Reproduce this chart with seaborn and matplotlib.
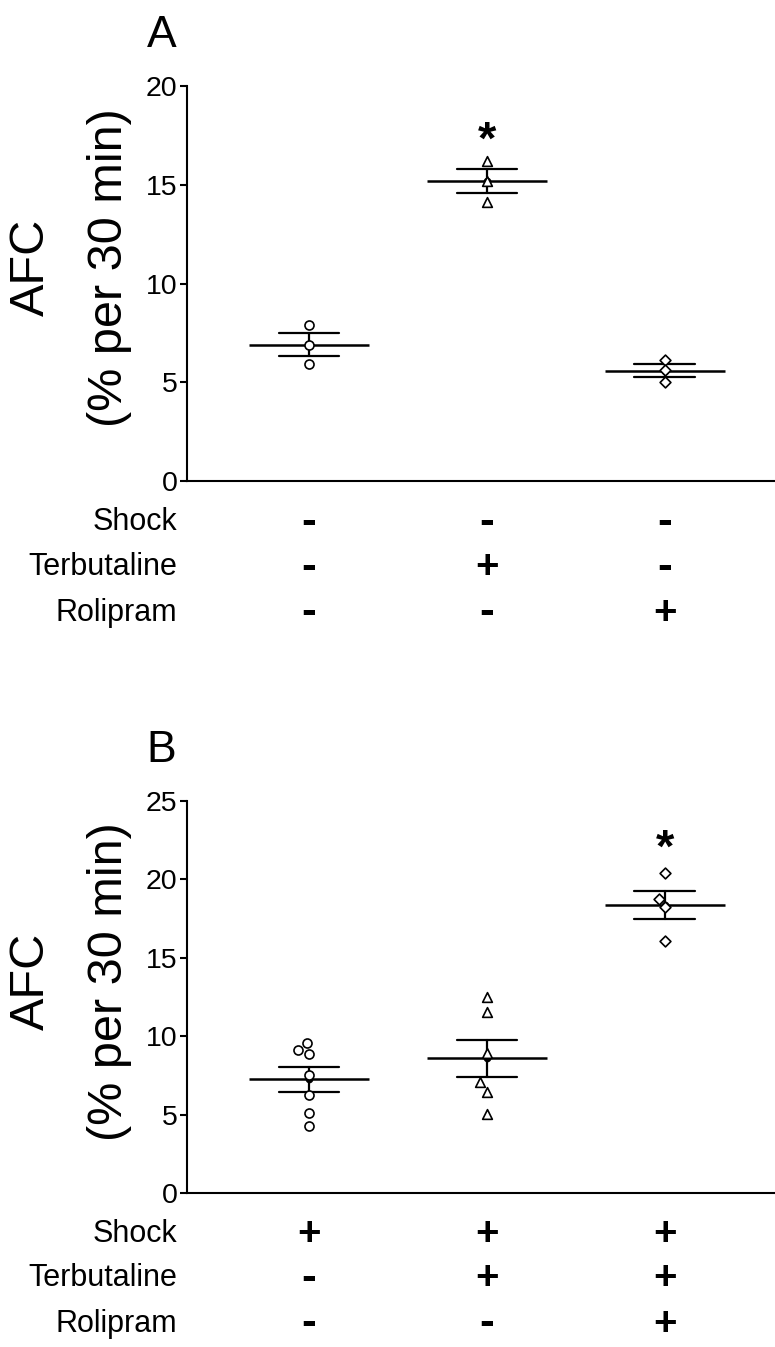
import numpy as np
import pandas as pd
import matplotlib
matplotlib.use('Agg')
import matplotlib.pyplot as plt
import matplotlib.transforms as mtransforms
import seaborn as sns

# Panel A: no shock
a_groups = ['Control', 'Terbutaline', 'Rolipram']
a_control = [7.9, 6.9, 5.9]
a_terbutaline = [16.2, 15.2, 14.15]
a_rolipram = [6.15, 5.6, 5.0]
a_shock = ['-', '-', '-']
a_terb = ['-', '+', '-']
a_roli = ['-', '-', '+']
a_signif = [False, True, False]

# Panel B: shock
b_groups = ['Shock', 'Shock + Terbutaline', 'Shock + Terbutaline + Rolipram']
b_shock_only = [9.55, 9.1, 8.88, 7.55, 6.25, 5.1, 4.25]
b_shock_terb = [12.48, 11.53, 8.95, 7.06, 6.45, 5.05]
b_shock_terb_roli = [20.38, 18.75, 18.26, 16.08]
b_shock = ['+', '+', '+']
b_terb = ['-', '+', '+']
b_roli = ['-', '-', '+']
b_signif = [False, False, True]

row_names = ['Shock', 'Terbutaline', 'Rolipram']

sns.set_style('ticks')
plt.rcParams['font.family'] = ['Liberation Sans', 'DejaVu Sans']
plt.rcParams['text.color'] = 'black'
plt.rcParams['axes.labelcolor'] = 'black'
plt.rcParams['ytick.color'] = 'black'

fig = plt.figure(figsize=(7.75, 13.47), dpi=100)
W, H = 775.0, 1347.0
ax_a = fig.add_axes([187 / W, 1 - 481 / H, 1 - 187 / W, (481 - 86) / H])
ax_b = fig.add_axes([187 / W, 1 - 1193 / H, 1 - 187 / W, (1193 - 801) / H])

markers = ['o', '^', 'D']
sizes = [6.5, 7, 5.5]


def draw_panel(ax, groups, values, signs, signif, letter, ymax, star_y):
    df = pd.DataFrame({
        'group': np.repeat(groups, [len(v) for v in values]),
        'afc': np.concatenate(values),
    })

    # individual animals, open symbols
    for g, m, s in zip(groups, markers, sizes):
        sns.swarmplot(data=df[df['group'] == g], x='group', y='afc', order=groups,
                      marker=m, size=s, color='white', edgecolor='black',
                      linewidth=1.2, ax=ax)

    # mean +/- SEM
    sns.pointplot(data=df, x='group', y='afc', order=groups, errorbar='se',
                  capsize=0.34, color='black', marker='_', markersize=86,
                  markeredgewidth=1.8, linestyle='none', linewidth=1.6,
                  err_kws={'linewidth': 1.6}, ax=ax)
    # small dot at the mean
    sns.pointplot(data=df, x='group', y='afc', order=groups, errorbar=None,
                  color='black', marker='o', markersize=3.5, linestyle='none',
                  ax=ax)

    ax.set_xlim(-0.685, 2.62)
    ax.set_ylim(0, ymax)
    ax.set_yticks(np.arange(0, ymax + 1, 5))
    ax.set_xticks([])
    ax.set_xlabel('')
    ax.set_ylabel('')
    sns.despine(ax=ax)
    for sp in ['left', 'bottom']:
        ax.spines[sp].set_linewidth(1.5)
        ax.spines[sp].set_color('black')
    ax.tick_params(axis='y', length=5, width=1.5, labelsize=20.5, pad=2,
                   colors='black')

    # significance star
    for i, sig in enumerate(signif):
        if sig:
            ax.text(i, star_y, '*', ha='center', va='center', fontsize=34,
                    fontweight='bold')

    # y label
    ax.text(-0.264, 0.54, 'AFC', transform=ax.transAxes, rotation=90,
            ha='center', va='center', fontsize=35)
    ax.text(-0.131, 0.54, '(% per 30 min)', transform=ax.transAxes, rotation=90,
            ha='center', va='center', fontsize=35)

    # panel letter
    ax.text(-0.043, 1.128, letter, transform=ax.transAxes, ha='center',
            va='center', fontsize=32)

    # treatment table below the axis
    trans = mtransforms.blended_transform_factory(ax.transData, ax.transAxes)
    row_y = [-0.105, -0.218, -0.334]
    for r, name in enumerate(row_names):
        ax.text(-0.017, row_y[r], name, transform=ax.transAxes, ha='right',
                va='center', fontsize=22)
        for i, s in enumerate(signs[r]):
            if s == '+':
                ax.text(i, row_y[r], '+', transform=trans, ha='center',
                        va='center', fontsize=29, fontweight='bold')
            else:
                ax.text(i, row_y[r], '-', transform=trans, ha='center',
                        va='center', fontsize=32, fontweight='bold')


draw_panel(ax_a, a_groups, [a_control, a_terbutaline, a_rolipram],
           [a_shock, a_terb, a_roli], a_signif, 'A', 20, 17.2)
draw_panel(ax_b, b_groups, [b_shock_only, b_shock_terb, b_shock_terb_roli],
           [b_shock, b_terb, b_roli], b_signif, 'B', 25, 21.9)

fig.savefig('out.png', dpi=100, facecolor='white')
